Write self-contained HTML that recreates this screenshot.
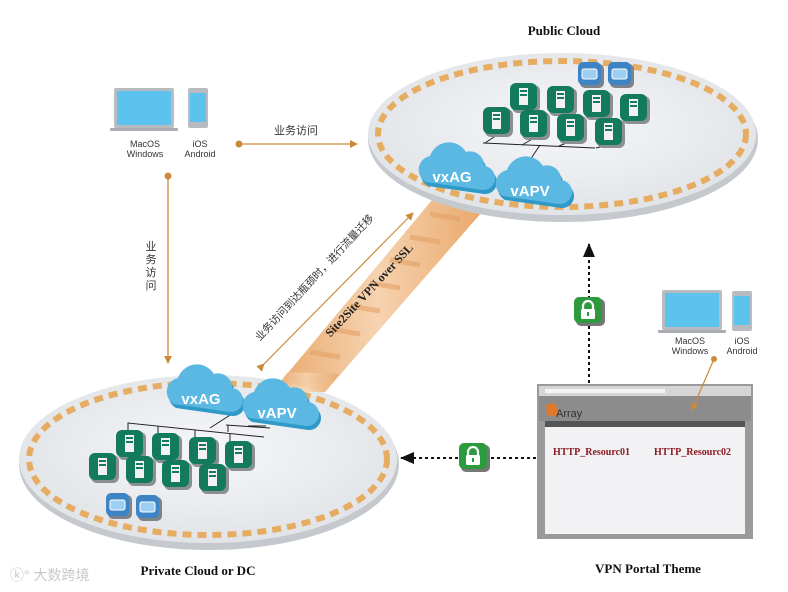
<!DOCTYPE html>
<html><head><meta charset="utf-8"><style>
html,body{margin:0;padding:0;background:#fff;}
svg{display:block;}
text{font-family:"Liberation Sans","Noto Sans CJK SC",sans-serif;}
.t{font-family:"Liberation Serif",serif;font-weight:bold;}
</style></head><body>
<svg width="788" height="592" viewBox="0 0 788 592" xmlns="http://www.w3.org/2000/svg">
<defs>
<radialGradient id="plat" cx="50%" cy="45%" r="60%">
<stop offset="0" stop-color="#f6f7f9"/><stop offset="1" stop-color="#dfe2e6"/>
</radialGradient>
<linearGradient id="band" x1="0" y1="0" x2="1" y2="0">
<stop offset="0" stop-color="#e9a86b"/><stop offset="0.5" stop-color="#f6d3b0"/><stop offset="1" stop-color="#e9a86b"/>
</linearGradient>
<g id="srv">
<rect x="2" y="2" width="28" height="28" rx="6" fill="#8a8f92"/>
<rect x="0" y="0" width="27" height="27" rx="6" fill="#137a5e"/>
<rect x="9" y="5" width="9" height="17" fill="#f2f2f2"/>
<rect x="10" y="7" width="7" height="2" fill="#137a5e"/>
<rect x="10" y="11" width="7" height="2" fill="#137a5e"/>
</g>
<g id="box">
<rect x="2" y="2" width="24" height="24" rx="5" fill="#7d8388"/>
<rect x="0" y="0" width="23" height="23" rx="5" fill="#3d84c6"/>
<rect x="4" y="7" width="15" height="10" rx="2" fill="#9dcff2" stroke="#fff" stroke-width="1"/>
</g>
<g id="lock">
<rect x="2" y="2" width="29" height="27" rx="5" fill="#777"/>
<rect x="0" y="0" width="28" height="26" rx="5" fill="#2e9a3e"/>
<path d="M9 12 v-3 a5 5 0 0 1 10 0 v3" fill="none" stroke="#fff" stroke-width="2.2"/>
<rect x="7" y="12" width="14" height="10" rx="1.5" fill="#fff"/>
<rect x="13" y="15" width="2" height="4" fill="#2e9a3e"/>
</g>
<g id="cloud">
<path d="M8 40 a14 14 0 0 1 4 -26 a20 20 0 0 1 36 -4 a14 14 0 0 1 18 14 a12 12 0 0 1 -2 24 z" fill="#2f9ac8"/>
<path d="M6 36 a14 14 0 0 1 4 -26 a20 20 0 0 1 36 -4 a14 14 0 0 1 18 14 a12 12 0 0 1 -2 24 z" fill="#5ab8e3"/>
</g>
<g id="laptop">
<rect x="4" y="0" width="60" height="40" rx="2" fill="#b8bcc0"/>
<rect x="7" y="3" width="54" height="34" fill="#5cc3ee"/>
<rect x="0" y="40" width="68" height="3" rx="1" fill="#a9adb1"/>
</g>
<g id="phone">
<rect x="0" y="0" width="20" height="40" rx="2" fill="#b8bcc0"/>
<rect x="2" y="5" width="16" height="29" fill="#5cc3ee"/>
</g>
<marker id="ao" markerWidth="8" markerHeight="8" refX="7" refY="4" orient="auto" markerUnits="userSpaceOnUse"><path d="M0 0 L8 4 L0 8 z" fill="#c98a3a"/></marker>
<marker id="ak" markerWidth="14" markerHeight="12" refX="13" refY="6" orient="auto" markerUnits="userSpaceOnUse"><path d="M0 0 L14 6 L0 12 z" fill="#111"/></marker>
</defs>

<!-- band -->
<polygon points="272,392 325,392 482,212 432,200" fill="url(#band)"/>
<g stroke="#e4a266" stroke-width="5" opacity="0.6">
<line x1="290" y1="375" x2="320" y2="380"/><line x1="310" y1="352" x2="340" y2="357"/>
<line x1="330" y1="329" x2="360" y2="334"/><line x1="350" y1="306" x2="380" y2="311"/>
<line x1="370" y1="283" x2="400" y2="288"/><line x1="390" y1="260" x2="420" y2="265"/>
<line x1="410" y1="237" x2="440" y2="242"/><line x1="430" y1="214" x2="460" y2="219"/>
</g>

<!-- top platform -->
<ellipse cx="563" cy="139" rx="195" ry="83" fill="#c5c9ce"/>
<ellipse cx="562" cy="134" rx="194" ry="81" fill="url(#plat)"/>
<ellipse cx="562" cy="134" rx="184" ry="73" fill="none" stroke="#e6ad62" stroke-width="6" stroke-dasharray="9,6"/>

<!-- bottom platform -->
<ellipse cx="209" cy="464" rx="190" ry="86" fill="#c5c9ce"/>
<ellipse cx="208" cy="459" rx="189" ry="84" fill="url(#plat)"/>
<ellipse cx="208" cy="459" rx="179" ry="76" fill="none" stroke="#e6ad62" stroke-width="6" stroke-dasharray="9,6"/>

<!-- band over bottom rim -->
<polygon points="272,392 325,392 340,374 288,372" fill="url(#band)" opacity="0.85"/>

<!-- top servers -->
<g stroke="#222" stroke-width="1" fill="none">
<polyline points="483,143 595,148"/><line x1="497" y1="135" x2="485" y2="143"/><line x1="534" y1="138" x2="522" y2="145"/><line x1="571" y1="141" x2="559" y2="146"/><line x1="608" y1="145" x2="596" y2="148"/>
<line x1="540" y1="145" x2="530" y2="160"/>
</g>
<use href="#box" x="578" y="62"/><use href="#box" x="608" y="62"/>
<use href="#srv" x="510" y="83"/><use href="#srv" x="547" y="86"/><use href="#srv" x="583" y="90"/><use href="#srv" x="620" y="94"/>
<use href="#srv" x="483" y="107"/><use href="#srv" x="520" y="110"/><use href="#srv" x="557" y="114"/><use href="#srv" x="595" y="118"/>
<use href="#cloud" x="420" y="146"/><text x="452" y="182" font-size="15" font-weight="bold" fill="#fff" text-anchor="middle">vxAG</text>
<use href="#cloud" x="497" y="160"/><text x="530" y="196" font-size="15" font-weight="bold" fill="#fff" text-anchor="middle">vAPV</text>

<!-- bottom servers -->
<g stroke="#222" stroke-width="1" fill="none">
<polyline points="226,425 270,428"/><polyline points="228,425 228,432"/><line x1="248" y1="426" x2="266" y2="426"/>
<polyline points="128,430 128,423 264,437"/><line x1="158" y1="426" x2="158" y2="436"/><line x1="195" y1="430" x2="195" y2="440"/><line x1="230" y1="434" x2="230" y2="444"/>
<line x1="210" y1="428" x2="238" y2="410"/>
</g>
<use href="#srv" x="116" y="430"/><use href="#srv" x="152" y="433"/><use href="#srv" x="189" y="437"/><use href="#srv" x="225" y="441"/>
<use href="#srv" x="89" y="453"/><use href="#srv" x="126" y="456"/><use href="#srv" x="162" y="460"/><use href="#srv" x="199" y="464"/>
<use href="#box" x="106" y="493"/><use href="#box" x="136" y="495"/>
<use href="#cloud" x="168" y="368"/><text x="201" y="404" font-size="15" font-weight="bold" fill="#fff" text-anchor="middle">vxAG</text>
<use href="#cloud" x="244" y="382"/><text x="277" y="418" font-size="15" font-weight="bold" fill="#fff" text-anchor="middle">vAPV</text>

<!-- devices left -->
<use href="#laptop" x="110" y="88"/><use href="#phone" x="188" y="88"/>
<text x="145" y="147" font-size="9" text-anchor="middle" fill="#333">MacOS</text>
<text x="145" y="157" font-size="9" text-anchor="middle" fill="#333">Windows</text>
<text x="200" y="147" font-size="9" text-anchor="middle" fill="#333">iOS</text>
<text x="200" y="157" font-size="9" text-anchor="middle" fill="#333">Android</text>

<!-- orange arrows -->
<circle cx="239" cy="144" r="3.5" fill="#d0883a"/>
<line x1="239" y1="144" x2="357" y2="144" stroke="#c98a3a" stroke-width="1.3" marker-end="url(#ao)"/>
<text x="296" y="134" font-size="11" text-anchor="middle" fill="#333">业务访问</text>
<circle cx="168" cy="176" r="3.5" fill="#d0883a"/>
<line x1="168" y1="176" x2="168" y2="363" stroke="#c98a3a" stroke-width="1.3" marker-end="url(#ao)"/>
<g font-size="11" fill="#333" text-anchor="middle">
<text x="151" y="250">业</text><text x="151" y="263">务</text><text x="151" y="276">访</text><text x="151" y="289">问</text>
</g>
<line x1="264" y1="364" x2="413" y2="213" stroke="#c98a3a" stroke-width="1.2" marker-end="url(#ao)" marker-start="url(#ao)" />
<text transform="translate(317,280) rotate(-47)" font-size="10.5" text-anchor="middle" fill="#333">业务访问到达瓶颈时，进行流量迁移</text>
<text class="t" transform="translate(372,293) rotate(-47)" font-size="12" text-anchor="middle" fill="#222">Site2Site VPN over SSL</text>

<!-- dashed arrows -->
<line x1="589" y1="383" x2="589" y2="244" stroke="#111" stroke-width="2" stroke-dasharray="3,3" marker-end="url(#ak)"/>
<line x1="536" y1="458" x2="401" y2="458" stroke="#111" stroke-width="2" stroke-dasharray="3,3" marker-end="url(#ak)"/>
<use href="#lock" x="574" y="297"/>
<use href="#lock" x="459" y="443"/>

<!-- right devices -->
<use href="#laptop" x="658" y="290"/><use href="#phone" x="732" y="291"/>
<text x="690" y="344" font-size="9" text-anchor="middle" fill="#333">MacOS</text>
<text x="690" y="354" font-size="9" text-anchor="middle" fill="#333">Windows</text>
<text x="742" y="344" font-size="9" text-anchor="middle" fill="#333">iOS</text>
<text x="742" y="354" font-size="9" text-anchor="middle" fill="#333">Android</text>
<circle cx="714" cy="359" r="3" fill="#d0883a"/>

<!-- browser -->
<rect x="537" y="384" width="216" height="155" fill="#9a9a9a"/>
<rect x="539" y="386" width="212" height="10" fill="#d6d6d6"/>
<rect x="545" y="389" width="120" height="4" fill="#f4f4f4"/>
<rect x="539" y="396" width="212" height="25" fill="#8c8c8c"/>
<rect x="545" y="421" width="200" height="6" fill="#555"/>
<rect x="545" y="427" width="200" height="107" fill="#f2f2f4"/>
<path d="M546 405 l8 -2 l4 6 l-2 8 l-9 -2 z" fill="#e07a2a"/>
<text x="556" y="417" font-size="11" fill="#333" font-family="Liberation Serif,serif">Array</text>
<line x1="714" y1="359" x2="692" y2="410" stroke="#c98a3a" stroke-width="1.2" marker-end="url(#ao)"/>
<text class="t" x="553" y="455" font-size="10" fill="#8b1a24">HTTP_Resourc01</text>
<text class="t" x="654" y="455" font-size="10" fill="#8b1a24">HTTP_Resourc02</text>

<!-- titles -->
<text class="t" x="564" y="35" font-size="13" text-anchor="middle" fill="#111">Public Cloud</text>
<text class="t" x="198" y="575" font-size="13" text-anchor="middle" fill="#111">Private Cloud or DC</text>
<text class="t" x="648" y="573" font-size="13" text-anchor="middle" fill="#111">VPN Portal Theme</text>
<text x="10" y="580" font-size="14" fill="#c8c8c8">ⓚ° 大数跨境</text>
</svg>
</body></html>
